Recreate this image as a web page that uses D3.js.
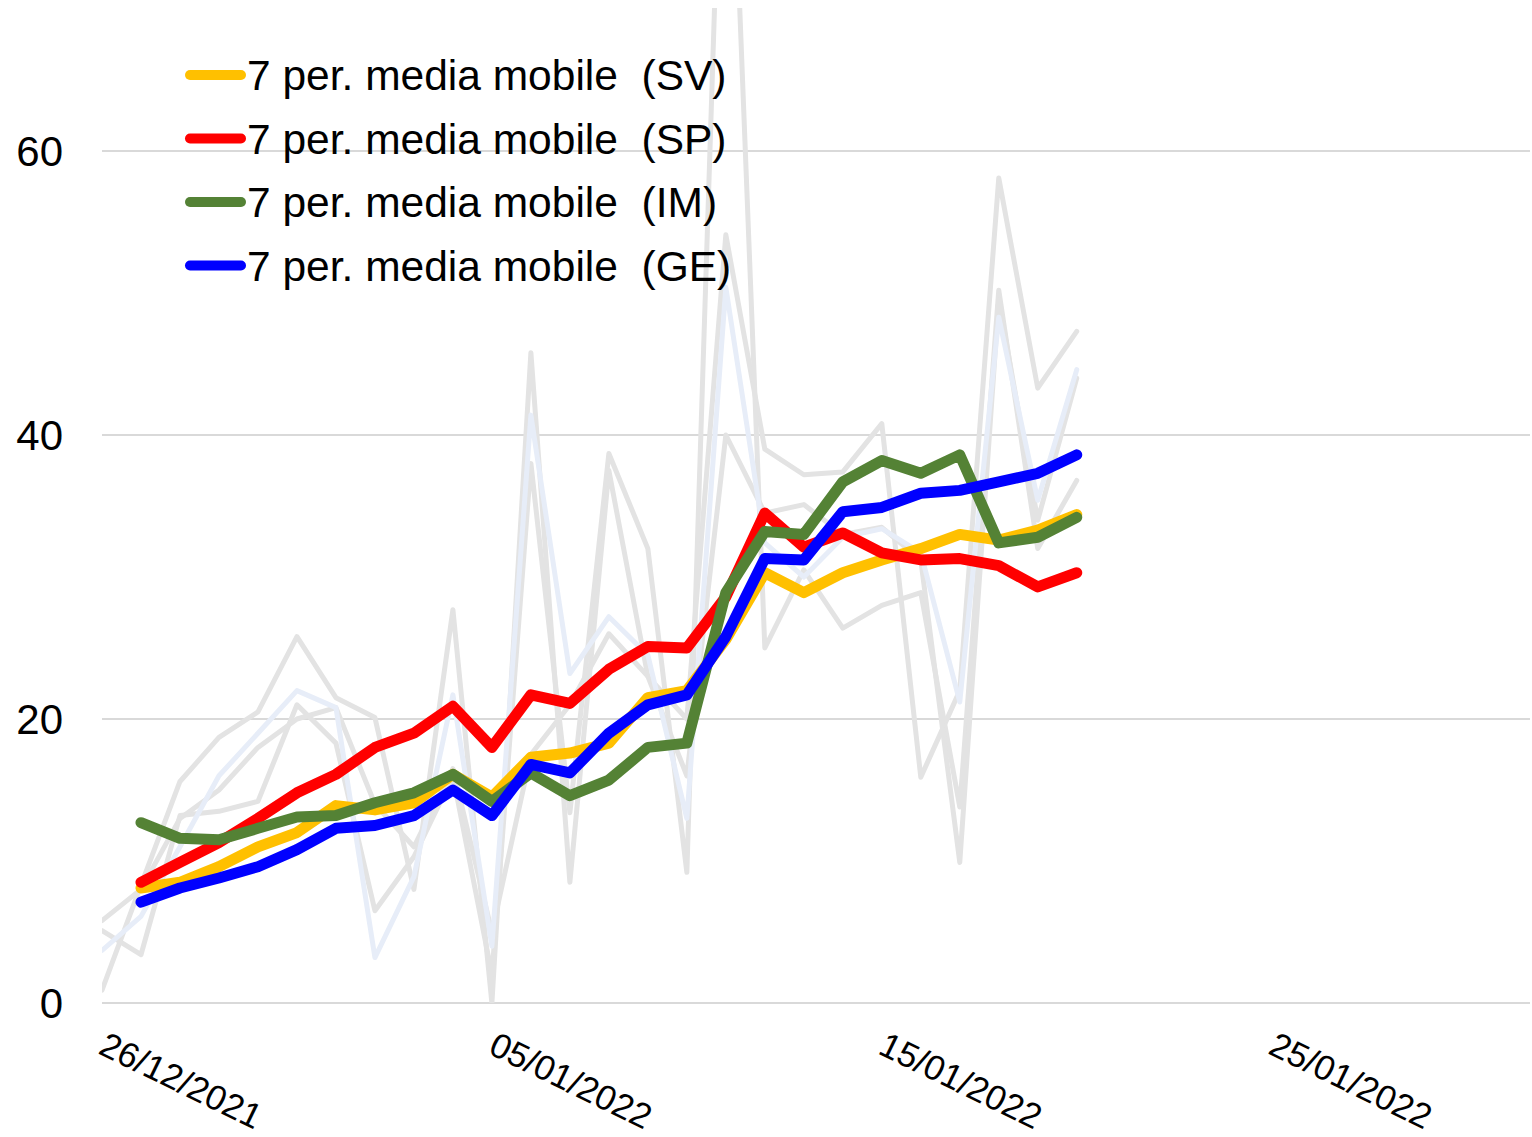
<!DOCTYPE html>
<html>
<head>
<meta charset="utf-8">
<script src="https://cdn.jsdelivr.net/npm/d3@7"></script>
<style>
  body{margin:0;background:#fff;}
  text{font-family:"Liberation Sans",Arial,sans-serif;fill:#000;}
</style>
</head>
<body>
<div id="chart"></div>
<script>

// 7 day moving averages, from 27/12/2021
var maStart = "2021-12-27";
var maSV = [8.1,8.5,9.6,11.0,12.0,13.9,13.6,14.1,16.1,14.5,17.3,17.6,18.3,21.5,22.0,25.6,30.3,28.9,30.3,31.2,32.0,33.0,32.6,33.3,34.4];
var maSP = [8.5,9.9,11.3,13.0,14.8,16.1,18.0,19.0,20.9,18.0,21.7,21.1,23.5,25.1,25.0,28.6,34.5,32.1,33.1,31.7,31.2,31.3,30.8,29.3,30.3];
var maIM = [12.7,11.6,11.5,12.3,13.1,13.2,14.1,14.8,16.1,14.2,16.2,14.6,15.7,18.0,18.3,28.9,33.2,33.0,36.7,38.2,37.3,38.6,32.4,32.8,34.2];
var maGE = [7.1,8.1,8.8,9.6,10.8,12.3,12.5,13.2,15.0,13.2,16.8,16.2,19.0,21.0,21.7,25.8,31.3,31.2,34.6,34.9,35.9,36.1,36.7,37.3,38.6];

// daily values (background), from 26/12/2021
var rawStart = "2021-12-26";
var rawA = [0.9,8.3,15.6,18.7,20.5,25.8,21.5,20.1,8.0,27.7,0,45.8,8.5,37.5,23.0,20.0,54.1,39.0,37.2,37.4,40.8,15.9,22.0,58.1,43.3,47.3];
var rawB = [5.1,3.4,13.2,13.5,14.2,21.0,18.3,6.5,10.3,16.0,2.0,38.0,13.4,38.7,32.0,9.2,95,25.0,30.5,26.4,28.0,28.9,13.8,50.2,32.0,36.8];
var rawC = [5.8,8.0,13.0,15.0,18.0,20.0,20.8,14.0,11.0,16.5,5.0,17.5,21.0,26.0,23.0,16.0,40.0,34.5,35.1,33.0,33.5,31.2,9.9,49.5,34.0,44.0];
var rawGE = [3.7,6.1,11.0,16.0,19.0,22.0,20.8,3.2,8.9,21.7,4.0,41.4,23.2,27.2,24.5,13.0,50.4,32.4,30.0,32.8,33.4,31.7,21.2,48.3,35.4,44.6];

var seriesNames = ["7 per. media mobile  (SV)","7 per. media mobile  (SP)","7 per. media mobile  (IM)","7 per. media mobile  (GE)"];
var seriesColors = ["#ffc000","#ff0000","#548235","#0000ff"];

var yTicks = [0,20,40,60];
var xTicks = ["2021-12-26","2022-01-05","2022-01-15","2022-01-25"];

var W = 1532, H = 1137;

var parse = d3.utcParse("%Y-%m-%d");
var fmt = d3.utcFormat("%d/%m/%Y");

//set scale
var scaleX = d3.scaleUtc()
    .domain([parse("2021-12-26"), d3.utcHour.offset(parse("2022-01-31"),15)])
    .range([102,1530]);

var scaleY = d3.scaleLinear()
    .domain([0,60])
    .range([1003,151]);

function toPoints(arr,start){
  var s = parse(start);
  return arr.map(function(v,i){ return {date:d3.utcDay.offset(s,i), value:v}; });
}

var svg = d3.select('#chart')
    .append('svg')
    .attr('width',W)
    .attr('height',H);

svg.append('clipPath')
    .attr('id','plotclip')
    .append('rect')
    .attr('x',scaleX.range()[0])
    .attr('y',8)
    .attr('width',scaleX.range()[1]-scaleX.range()[0])
    .attr('height',1003-8);

//grid
svg.append('g').attr('class','grid')
    .selectAll('line')
    .data(yTicks)
    .enter()
    .append('line')
    .attr('x1',102)
    .attr('x2',1530)
    .attr('y1',function(d){return scaleY(d)})
    .attr('y2',function(d){return scaleY(d)})
    .style('stroke','#d9d9d9')
    .style('stroke-width',2);

//y labels
svg.append('g').attr('class','axis-y')
    .selectAll('text')
    .data(yTicks)
    .enter()
    .append('text')
    .attr('x',63)
    .attr('y',function(d){return scaleY(d)})
    .attr('dy','0.36em')
    .attr('text-anchor','end')
    .style('font-size','42px')
    .text(function(d){return d});

//x labels
svg.append('g').attr('class','axis-x')
    .selectAll('text')
    .data(xTicks)
    .enter()
    .append('text')
    .attr('transform',function(d){return 'translate(' + (scaleX(parse(d))-5) + ',1053) rotate(26)'})
    .style('font-size','35px')
    .text(function(d){return fmt(parse(d))});

var path = d3.line()
    .x(function(d){return scaleX(d.date)})
    .y(function(d){return scaleY(d.value)});

var plot = svg.append('g').attr('clip-path','url(#plotclip)');

//daily lines
var raws = [rawA,rawB,rawC,rawGE];
var rawColors = ['#e3e3e3','#e3e3e3','#e3e3e3','#e7edf8'];
for(i=0;i<raws.length;i++){
  plot.append('path')
      .datum(toPoints(raws[i],rawStart))
      .attr('d',path)
      .style('fill','none')
      .style('stroke',rawColors[i])
      .style('stroke-width',5)
      .style('stroke-linejoin','round')
      .style('stroke-linecap','round');
}

//moving averages
var mas = [maSV,maSP,maIM,maGE];
for(i=0;i<mas.length;i++){
  plot.append('path')
      .datum(toPoints(mas[i],maStart))
      .attr('d',path)
      .style('fill','none')
      .style('stroke',seriesColors[i])
      .style('stroke-width',11)
      .style('stroke-linejoin','round')
      .style('stroke-linecap','round');
}

//legend
var legend = svg.append('g').attr('class','legend')
    .selectAll('g')
    .data(seriesNames)
    .enter()
    .append('g')
    .attr('transform',function(d,i){return 'translate(0,' + (75 + i*63.5) + ')'});

legend.append('line')
    .attr('x1',190)
    .attr('x2',241)
    .style('stroke',function(d,i){return seriesColors[i]})
    .style('stroke-width',10)
    .style('stroke-linecap','round');

legend.append('text')
    .attr('x',247)
    .attr('dy','0.36em')
    .style('font-size','42.5px')
    .style('white-space','pre')
    .text(function(d){return d});

</script>
</body>
</html>
